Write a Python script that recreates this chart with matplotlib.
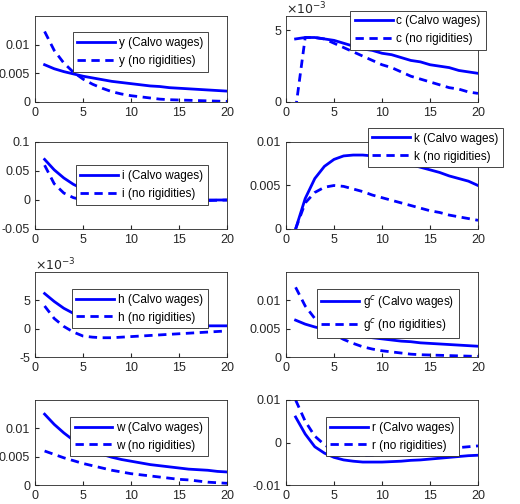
import numpy as np
import matplotlib
matplotlib.use("Agg")
import matplotlib.pyplot as plt

plt.rcParams['font.family'] = ['Liberation Sans', 'DejaVu Sans']

periods = np.arange(1, 21)

y_calvo = [6.5, 5.8, 5.3, 4.9, 4.5, 4.2, 3.9, 3.6, 3.4, 3.2, 3.0, 2.8, 2.7, 2.5, 2.4, 2.3, 2.2, 2.1, 2.0, 1.9]
y_norig = [12.3, 9.0, 6.8, 5.2, 4.0, 3.1, 2.4, 1.8, 1.4, 1.1, 0.9, 0.7, 0.5, 0.4, 0.35, 0.3, 0.25, 0.2, 0.15, 0.1]
c_calvo = [4.4, 4.5, 4.5, 4.4, 4.3, 4.1, 3.9, 3.7, 3.6, 3.4, 3.3, 3.1, 2.9, 2.8, 2.6, 2.5, 2.4, 2.2, 2.1, 2.0]
c_norig = [-0.5, 4.5, 4.5, 4.4, 4.1, 3.8, 3.5, 3.2, 2.9, 2.6, 2.4, 2.1, 1.8, 1.6, 1.4, 1.2, 1.0, 0.9, 0.7, 0.6]
i_calvo = [70, 52, 38, 27, 19, 13, 9, 6, 4, 2, 1, 0.5, 0.2, 0, 0, 0, 0, 0, 0, 0]
i_norig = [60, 28, 12, 4, 0, -2, -3, -3.5, -3.5, -3.5, -3, -3, -2.5, -2, -2, -1.5, -1, -1, -0.5, 0]
k_calvo = [0, 3.5, 5.8, 7.2, 8.0, 8.4, 8.5, 8.5, 8.4, 8.2, 8.0, 7.7, 7.4, 7.1, 6.8, 6.5, 6.1, 5.8, 5.5, 5.0]
k_norig = [0, 3.0, 4.2, 4.8, 5.0, 4.9, 4.6, 4.3, 3.9, 3.6, 3.3, 3.0, 2.7, 2.4, 2.1, 1.9, 1.6, 1.4, 1.2, 1.0]
h_calvo = [6.2, 4.8, 3.6, 2.7, 2.0, 1.6, 1.3, 1.1, 1.0, 0.9, 0.8, 0.75, 0.7, 0.65, 0.6, 0.6, 0.55, 0.5, 0.5, 0.5]
h_norig = [4.0, 1.8, 0.4, -0.6, -1.3, -1.5, -1.6, -1.6, -1.5, -1.4, -1.3, -1.2, -1.1, -1.0, -0.9, -0.8, -0.7, -0.6, -0.5, -0.4]
w_calvo = [12.5, 10.7, 9.2, 7.9, 6.8, 6.0, 5.4, 4.9, 4.5, 4.2, 3.9, 3.6, 3.4, 3.2, 3.0, 2.8, 2.7, 2.6, 2.4, 2.3]
w_norig = [6.0, 5.4, 4.8, 4.3, 3.8, 3.4, 3.0, 2.6, 2.3, 2.0, 1.8, 1.6, 1.4, 1.2, 1.0, 0.9, 0.7, 0.5, 0.4, 0.3]
r_calvo = [6.0, 2.0, -1.0, -2.5, -3.5, -4.1, -4.4, -4.6, -4.6, -4.6, -4.5, -4.4, -4.2, -4.1, -3.9, -3.7, -3.5, -3.3, -3.1, -3.0]
r_norig = [10.0, 5.0, 1.5, -0.5, -2.0, -2.7, -3.0, -3.1, -3.0, -2.8, -2.6, -2.4, -2.2, -2.0, -1.8, -1.6, -1.4, -1.2, -1.0, -0.8]

# name, calvo, norig, scale, ylim, yticks, ticklabels, legend anchor, x10^-3 label
panels = [
    ("y", y_calvo, y_norig, 1e-3, (0, 0.015), [0, 0.005, 0.01], ["0", "0.005", "0.01"], (0.93, 0.88), False),
    ("c", c_calvo, c_norig, 1e-3, (0, 6), [0, 5], ["0", "5"], (1.07, 1.13), True),
    ("i", i_calvo, i_norig, 1e-3, (-0.05, 0.1), [-0.05, 0, 0.05, 0.1], ["-0.05", "0", "0.05", "0.1"], (0.93, 0.80), False),
    ("k", k_calvo, k_norig, 1e-3, (0, 0.01), [0, 0.005, 0.01], ["0", "0.005", "0.01"], (1.16, 1.23), False),
    ("h", h_calvo, h_norig, 1, (-5, 10), [-5, 0, 5], ["-5", "0", "5"], (0.93, 0.87), True),
    ("g$^c$", y_calvo, y_norig, 1e-3, (0, 0.015), [0, 0.005, 0.01], ["0", "0.005", "0.01"], (0.93, 0.87), False),
    ("w", w_calvo, w_norig, 1e-3, (0, 0.015), [0, 0.005, 0.01], ["0", "0.005", "0.01"], (0.93, 0.87), False),
    ("r", r_calvo, r_norig, 1e-3, (-0.01, 0.01), [-0.01, 0, 0.01], ["-0.01", "0", "0.01"], (0.93, 0.87), False),
]

fig = plt.figure(figsize=(5.2, 5.04), dpi=100)
W, H = 520, 504
lefts = [35, 286]
rows = [(16, 102), (142, 229), (272, 357), (400, 485)]
blue = (0, 0, 1)

for n, (name, calvo, norig, scale, ylim, yt, ytl, anchor, sci) in enumerate(panels):
    r, c = divmod(n, 2)
    top, bot = rows[r]
    ax = fig.add_axes([lefts[c] / W, 1 - bot / H, 192 / W, (bot - top) / H])
    s = 1 if sci else scale
    ax.plot(periods, np.array(calvo) * s, color=blue, lw=2, label=f"{name} (Calvo wages)")
    ax.plot(periods, np.array(norig) * s, color=blue, lw=2, ls=(0, (3, 2)), label=f"{name} (no rigidities)")
    if sci:
        ax.text(0, 1.02, r"$\times10^{-3}$", transform=ax.transAxes, fontsize=9, color="#262626")
    ax.set_xlim(0, 20)
    ax.set_ylim(*ylim)
    ax.set_xticks([0, 5, 10, 15, 20])
    ax.set_yticks(yt)
    ax.set_yticklabels(ytl)
    ax.tick_params(labelsize=9, direction="in", length=3, colors="#262626")
    for sp in ax.spines.values():
        sp.set_color("#262626")
        sp.set_linewidth(0.6)
    leg = ax.legend(loc="upper right", bbox_to_anchor=anchor, fontsize=8.5, handlelength=3.2,
                    fancybox=False, edgecolor="#262626", framealpha=1, borderpad=0.4,
                    labelspacing=0.5, handletextpad=0.3)
    leg.get_frame().set_linewidth(0.6)

fig.savefig("out.png", dpi=100)
